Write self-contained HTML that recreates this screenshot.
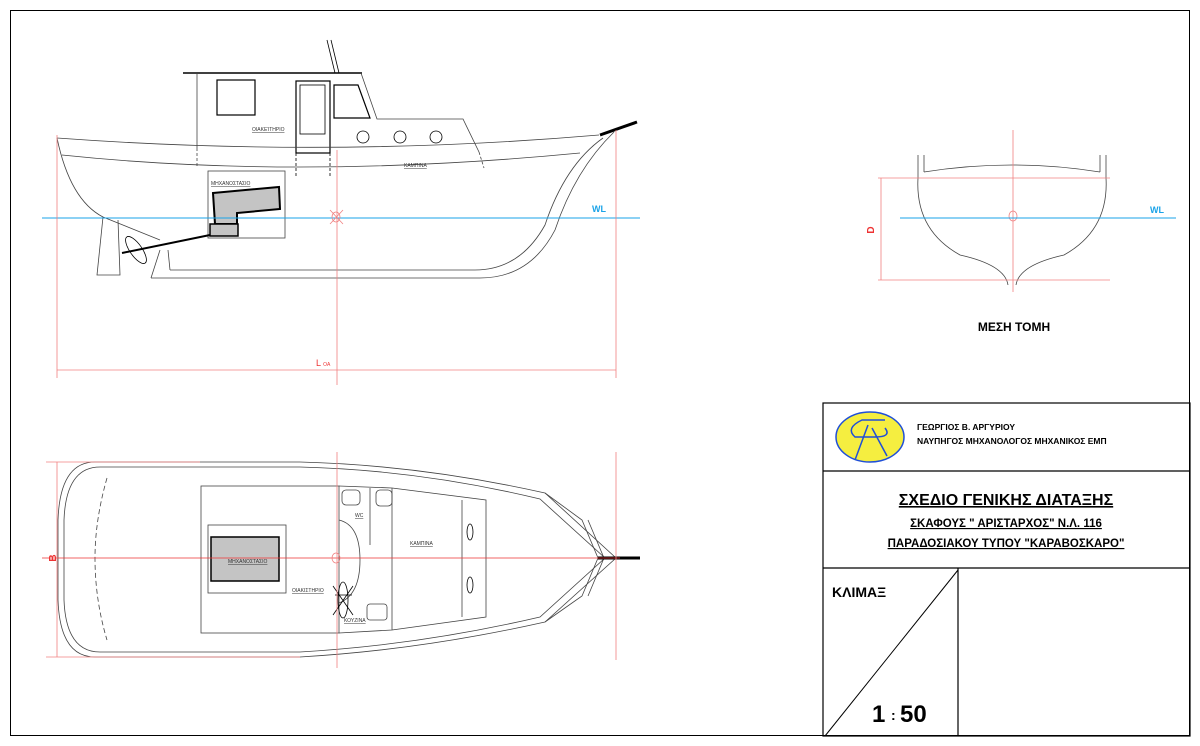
<!DOCTYPE html>
<html><head><meta charset="utf-8"><style>
html,body{margin:0;padding:0;background:#fff}
svg{display:block}
text{font-family:"Liberation Sans","DejaVu Sans",sans-serif}
</style></head><body>
<svg width="1200" height="746" viewBox="0 0 1200 746" xmlns="http://www.w3.org/2000/svg">
<rect x="10.5" y="10.5" width="1179" height="725" fill="none" stroke="#000" stroke-width="1"/>

<!-- SIDE VIEW -->
<g fill="none" stroke="#444" stroke-width="0.8">
<line x1="183" y1="73" x2="362" y2="73" stroke="#000" stroke-width="1.5"/>
<line x1="197" y1="73" x2="197" y2="148"/>
<line x1="197" y1="148" x2="197" y2="168" stroke-dasharray="3,2"/>
<rect x="217" y="80" width="38" height="35" stroke="#000" stroke-width="1.2"/>
<rect x="296" y="81" width="34" height="72" stroke="#000" stroke-width="1.2"/>
<rect x="300" y="85" width="25" height="49" stroke="#000"/>
<line x1="296" y1="153" x2="296" y2="176" stroke-dasharray="3,2" stroke="#000"/>
<line x1="330" y1="153" x2="330" y2="176" stroke-dasharray="3,2" stroke="#000"/>
<polygon points="334,85 358,85 370,118 334,118" stroke="#000" stroke-width="1.2"/>
<polyline points="361,73 377,119 463,119 479,152"/>
<line x1="479" y1="152" x2="484" y2="168" stroke-dasharray="3,2"/>
<circle cx="363" cy="137" r="6" stroke="#000"/>
<circle cx="400" cy="137" r="6" stroke="#000"/>
<circle cx="436" cy="137" r="6" stroke="#000"/>
<path d="M327,40 L335,73 M331,40 L339,73" stroke="#000"/>
<path d="M57,138 Q330,158 599,135"/>
<path d="M62,155 Q300,180 580,153"/>
<path d="M57,138 Q70,200 103,217 L160,240"/>
<path d="M151,278 L480,278 Q530,278 555,230 Q575,170 614,132"/>
<path d="M170,270 L475,270 Q520,270 545,225 Q565,165 603,138"/>
<path d="M170,270 L168,250 M151,278 L160,250"/>
<path d="M103,217 L97,275 L120,275 L118,220"/>
<ellipse cx="136" cy="250" rx="6" ry="16" transform="rotate(-35 136 250)" stroke="#000"/>
<rect x="208" y="171" width="77" height="67"/>
</g>
<polygon points="213,193 279,187 280,209 237,213 237,224 215,224" fill="#c4c4c4" stroke="#000" stroke-width="2"/>
<rect x="210" y="224" width="28" height="12" fill="#c4c4c4" stroke="#000" stroke-width="1.5"/>
<line x1="122" y1="253" x2="210" y2="235" stroke="#000" stroke-width="2"/>
<line x1="600" y1="135" x2="637" y2="122" stroke="#000" stroke-width="3"/>
<text x="252" y="131" font-size="5" fill="#333" text-decoration="underline">ΟΙΑΚΕΊΤΗΡΙΟ</text>
<text x="404" y="167" font-size="5" fill="#333" text-decoration="underline">ΚΑΜΠΙΝΑ</text>
<text x="211" y="185" font-size="5" fill="#333" text-decoration="underline">ΜΗΧΑΝΟΣΤΑΣΙΟ</text>
<!-- WL & dims -->
<line x1="42" y1="218" x2="640" y2="218" stroke="#1aa3e8" stroke-width="1"/>
<text x="592" y="212" font-size="9" fill="#1aa3e8" font-weight="bold">WL</text>
<g stroke="#f08080" stroke-width="0.8" fill="none">
<line x1="57" y1="135" x2="57" y2="378"/>
<line x1="616" y1="130" x2="616" y2="378"/>
<line x1="337" y1="150" x2="337" y2="385"/>
<line x1="57" y1="370" x2="616" y2="370"/>
<ellipse cx="336" cy="217" rx="4" ry="5"/>
<line x1="330" y1="210" x2="343" y2="224"/><line x1="343" y1="210" x2="330" y2="224"/>
</g>
<text x="316" y="366" font-size="9" fill="#e33">L <tspan font-size="5">OA</tspan></text>

<!-- PLAN VIEW -->
<g fill="none" stroke="#444" stroke-width="0.8">
<path d="M95,462 Q60,462 58,520 L58,600 Q60,657 95,657 L300,657 Q420,650 545,622 L616,558 L545,493 Q420,465 300,462 Z"/>
<path d="M100,467 Q66,467 64,520 L64,600 Q66,652 100,652 L300,652 Q420,645 540,617 L605,558 L540,499 Q420,470 300,467 Z"/>
<path d="M107,478 Q95,520 95,558 Q95,600 107,640" stroke-dasharray="5,3"/>
<path d="M545,493 L582,520 L598,558 L582,596 L545,622"/>
<path d="M588,520 L604,558 L588,596"/>
<rect x="201" y="486" width="138" height="147"/>
<path d="M339,486 L392,488 L486,500 L486,617 L392,630 L339,633"/>
<line x1="462" y1="500" x2="462" y2="617"/>
<path d="M339,520 Q360,525 360,560 Q360,595 339,603"/>
<line x1="392" y1="488" x2="392" y2="630"/>
<line x1="370" y1="488" x2="370" y2="545"/>
<rect x="342" y="490" width="18" height="15" rx="4"/>
<rect x="376" y="490" width="16" height="16" rx="4"/>
<rect x="367" y="604" width="20" height="16" rx="3"/>
<rect x="208" y="525" width="78" height="68"/>
<ellipse cx="470" cy="532" rx="3" ry="8" stroke="#000"/>
<ellipse cx="470" cy="585" rx="3" ry="8" stroke="#000"/>
<ellipse cx="343" cy="600" rx="5" ry="18" stroke="#000"/>
<path d="M333,586 L353,615 M353,586 L333,615 M335,595 L352,595" stroke="#000"/>
</g>
<rect x="211" y="537" width="68" height="44" fill="#c4c4c4" stroke="#000" stroke-width="1.5"/>
<text x="228" y="563" font-size="5" fill="#333" text-decoration="underline">ΜΗΧΑΝΟΣΤΑΣΙΟ</text>
<text x="292" y="592" font-size="5" fill="#333" text-decoration="underline">ΟΙΑΚΙΣΤΗΡΙΟ</text>
<text x="355" y="517" font-size="5" fill="#333" text-decoration="underline">WC</text>
<text x="410" y="545" font-size="5" fill="#333" text-decoration="underline">ΚΑΜΠΙΝΑ</text>
<text x="344" y="622" font-size="5" fill="#333" text-decoration="underline">ΚΟΥΖΙΝΑ</text>
<line x1="598" y1="558" x2="640" y2="558" stroke="#000" stroke-width="3"/>
<g stroke="#f08080" stroke-width="0.8" fill="none">
<line x1="42" y1="558" x2="620" y2="558" stroke="#e33"/>
<line x1="57" y1="462" x2="57" y2="657"/>
<line x1="46" y1="462" x2="200" y2="462"/>
<line x1="46" y1="657" x2="300" y2="657"/>
<line x1="337" y1="452" x2="337" y2="668"/>
<line x1="616" y1="452" x2="616" y2="660"/>
<ellipse cx="336" cy="558" rx="4" ry="5"/>
</g>
<text x="52" y="562" font-size="10" fill="#e33" font-weight="bold" transform="rotate(-90 52 558)" text-anchor="middle">B</text>

<!-- SECTION -->
<g fill="none" stroke="#444" stroke-width="0.8">
<path d="M918,155 L918,178 Q915,230 960,255 Q1005,265 1008,285 M1106,155 L1106,178 Q1109,230 1064,255 Q1019,265 1016,285"/>
<path d="M924,155 L924,172 M1100,155 L1100,172"/>
<path d="M924,172 Q1012,158 1100,172"/>
</g>
<g stroke="#f08080" stroke-width="0.8" fill="none">
<line x1="878" y1="178" x2="1110" y2="178"/>
<line x1="878" y1="280" x2="1110" y2="280"/>
<line x1="881" y1="178" x2="881" y2="280"/>
<line x1="1013" y1="130" x2="1013" y2="292"/>
<ellipse cx="1013" cy="216" rx="4" ry="5"/>
</g>
<line x1="900" y1="218" x2="1176" y2="218" stroke="#1aa3e8" stroke-width="1"/>
<text x="1150" y="213" font-size="9" fill="#1aa3e8" font-weight="bold">WL</text>
<text x="874" y="230" font-size="10" fill="#e33" font-weight="bold" transform="rotate(-90 874 230)" text-anchor="middle">D</text>
<text x="1014" y="331" font-size="12" fill="#000" font-weight="bold" text-anchor="middle">ΜΕΣΗ ΤΟΜΗ</text>

<!-- TITLE BLOCK -->
<g fill="none" stroke="#000" stroke-width="1.2">
<rect x="823" y="403" width="367" height="333"/>
<line x1="823" y1="471" x2="1190" y2="471"/>
<line x1="823" y1="568" x2="1190" y2="568"/>
<line x1="958" y1="568" x2="958" y2="736"/>
<line x1="825" y1="736" x2="958" y2="570" stroke-width="1"/>
</g>
<ellipse cx="870" cy="437" rx="34" ry="25" fill="#f5ee40" stroke="#1f4fd8" stroke-width="1.5"/>
<path d="M885,420 L862,420 Q845,428 855,437 L875,437 Q892,437 885,428 M868,425 L855,460 M872,428 L887,456" fill="none" stroke="#1f4fd8" stroke-width="1.5"/>
<text x="917" y="430" font-size="8.5" font-weight="bold">ΓΕΩΡΓΙΟΣ Β. ΑΡΓΥΡΙΟΥ</text>
<text x="917" y="444" font-size="8.5" font-weight="bold">ΝΑΥΠΗΓΟΣ ΜΗΧΑΝΟΛΟΓΟΣ ΜΗΧΑΝΙΚΟΣ ΕΜΠ</text>
<text x="1006" y="505" font-size="16" font-weight="bold" text-anchor="middle" text-decoration="underline">ΣΧΕΔΙΟ ΓΕΝΙΚΗΣ ΔΙΑΤΑΞΗΣ</text>
<text x="1006" y="527" font-size="11.5" font-weight="bold" text-anchor="middle" text-decoration="underline">ΣΚΑΦΟΥΣ " ΑΡΙΣΤΑΡΧΟΣ"  Ν.Λ. 116</text>
<text x="1006" y="547" font-size="11.5" font-weight="bold" text-anchor="middle" text-decoration="underline">ΠΑΡΑΔΟΣΙΑΚΟΥ ΤΥΠΟΥ "ΚΑΡΑΒΟΣΚΑΡΟ"</text>
<text x="832" y="597" font-size="14" font-weight="bold">ΚΛΙΜΑΞ</text>
<text x="872" y="722" font-size="24" font-weight="bold">1</text>
<text x="891" y="720" font-size="14" font-weight="bold">:</text>
<text x="900" y="722" font-size="24" font-weight="bold">50</text>
</svg>
</body></html>
